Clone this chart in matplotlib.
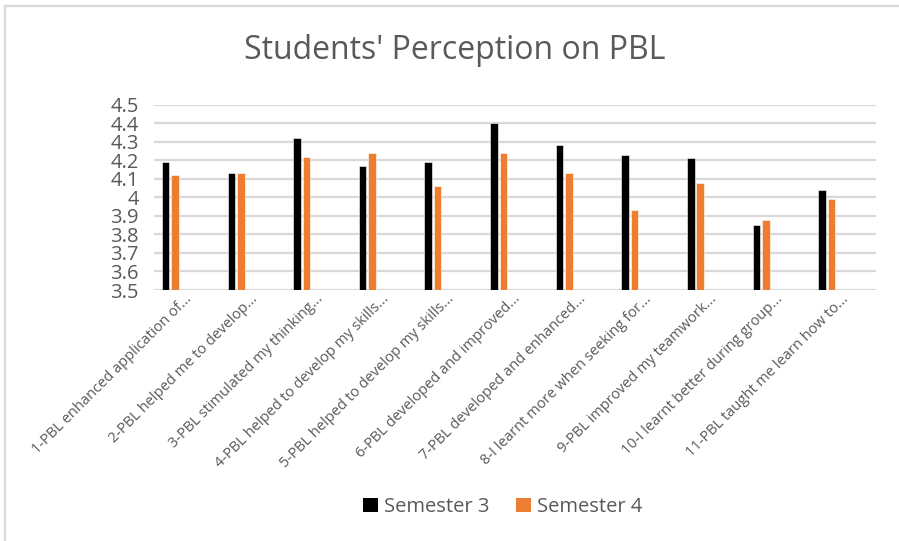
import matplotlib
matplotlib.use("Agg")
import matplotlib.pyplot as plt
import matplotlib.transforms as mtransforms
from matplotlib.lines import Line2D
from matplotlib.patches import Patch
import numpy as np

categories = [
    "1-PBL enhanced application of...",
    "2-PBL helped me to develop...",
    "3-PBL stimulated my thinking...",
    "4-PBL helped to develop my skills...",
    "5-PBL helped to develop my skills...",
    "6-PBL developed and improved...",
    "7-PBL developed and enhanced...",
    "8-I learnt more when seeking for...",
    "9-PBL improved my teamwork...",
    "10-I learnt better during group...",
    "11-PBL taught me learn how to...",
]
semester3 = [4.19, 4.13, 4.32, 4.17, 4.19, 4.40, 4.28, 4.23, 4.21, 3.85, 4.04]
semester4 = [4.12, 4.13, 4.22, 4.24, 4.06, 4.24, 4.13, 3.93, 4.08, 3.88, 3.99]
yticks = [3.5, 3.6, 3.7, 3.8, 3.9, 4.0, 4.1, 4.2, 4.3, 4.4, 4.5]
ytick_labels = ["3.5", "3.6", "3.7", "3.8", "3.9", "4", "4.1", "4.2", "4.3", "4.4", "4.5"]

plt.rcParams["font.family"] = ["Open Sans", "DejaVu Sans"]
TEXT = "#595959"
GRID = "#d9d9d9"
BLACK = "#000000"
ORANGE = "#ED7D31"

W, H = 899, 541
fig = plt.figure(figsize=(W / 100, H / 100), dpi=100)
ax = fig.add_axes([154 / W, 1 - 290 / H, (876 - 154) / W, (290 - 104.7) / H])

x = np.arange(len(categories))
bw = 0.115
off = 0.072
base = 3.5
ax.bar(x - off, np.array(semester3) - base, bottom=base, width=bw,
       color=BLACK, edgecolor="white", linewidth=0.4, zorder=3)
ax.bar(x + off, np.array(semester4) - base, bottom=base, width=bw,
       color=ORANGE, edgecolor="white", linewidth=0.4, zorder=3)

ax.set_xlim(-0.25, 10.75)
ax.set_ylim(3.5, 4.5)
ax.set_yticks(yticks)
ax.set_yticklabels(ytick_labels, fontsize=14.5, color=TEXT)
ax.tick_params(axis="y", length=0, pad=11)
ax.yaxis.grid(True, color=GRID, linewidth=1.6, zorder=0)
ax.set_axisbelow(True)
for s in ax.spines.values():
    s.set_visible(False)

ax.set_xticks(x)
ax.set_xticklabels(categories, rotation=45, ha="right", va="top",
                   rotation_mode="anchor", fontsize=10.5, color=TEXT)
ax.tick_params(axis="x", length=0, pad=1)
shift = mtransforms.ScaledTranslation(14 / 100, 0, fig.dpi_scale_trans)
for lbl in ax.get_xticklabels():
    lbl.set_transform(lbl.get_transform() + shift)

fig.text(455 / W, 1 - 50 / H, "Students' Perception on PBL", ha="center",
         va="center", fontsize=23, color=TEXT)

handles = [Patch(facecolor=BLACK), Patch(facecolor=ORANGE)]
leg = fig.legend(handles, ["Semester 3", "Semester 4"], loc="center",
                 bbox_to_anchor=(503 / W, 1 - 507 / H), ncol=2, frameon=False,
                 fontsize=14.5, handlelength=0.75, handleheight=0.75,
                 handletextpad=0.3, columnspacing=1.3)
for t in leg.get_texts():
    t.set_color(TEXT)

# chart area border (top and left edges)
fig.add_artist(Line2D([4.5 / W, 1], [1 - 5.5 / H, 1 - 5.5 / H], color=GRID,
                      linewidth=1.6, transform=fig.transFigure))
fig.add_artist(Line2D([4.5 / W, 4.5 / W], [0, 1 - 5.5 / H], color=GRID,
                      linewidth=1.6, transform=fig.transFigure))

fig.savefig("out.png", dpi=100, facecolor="white")
